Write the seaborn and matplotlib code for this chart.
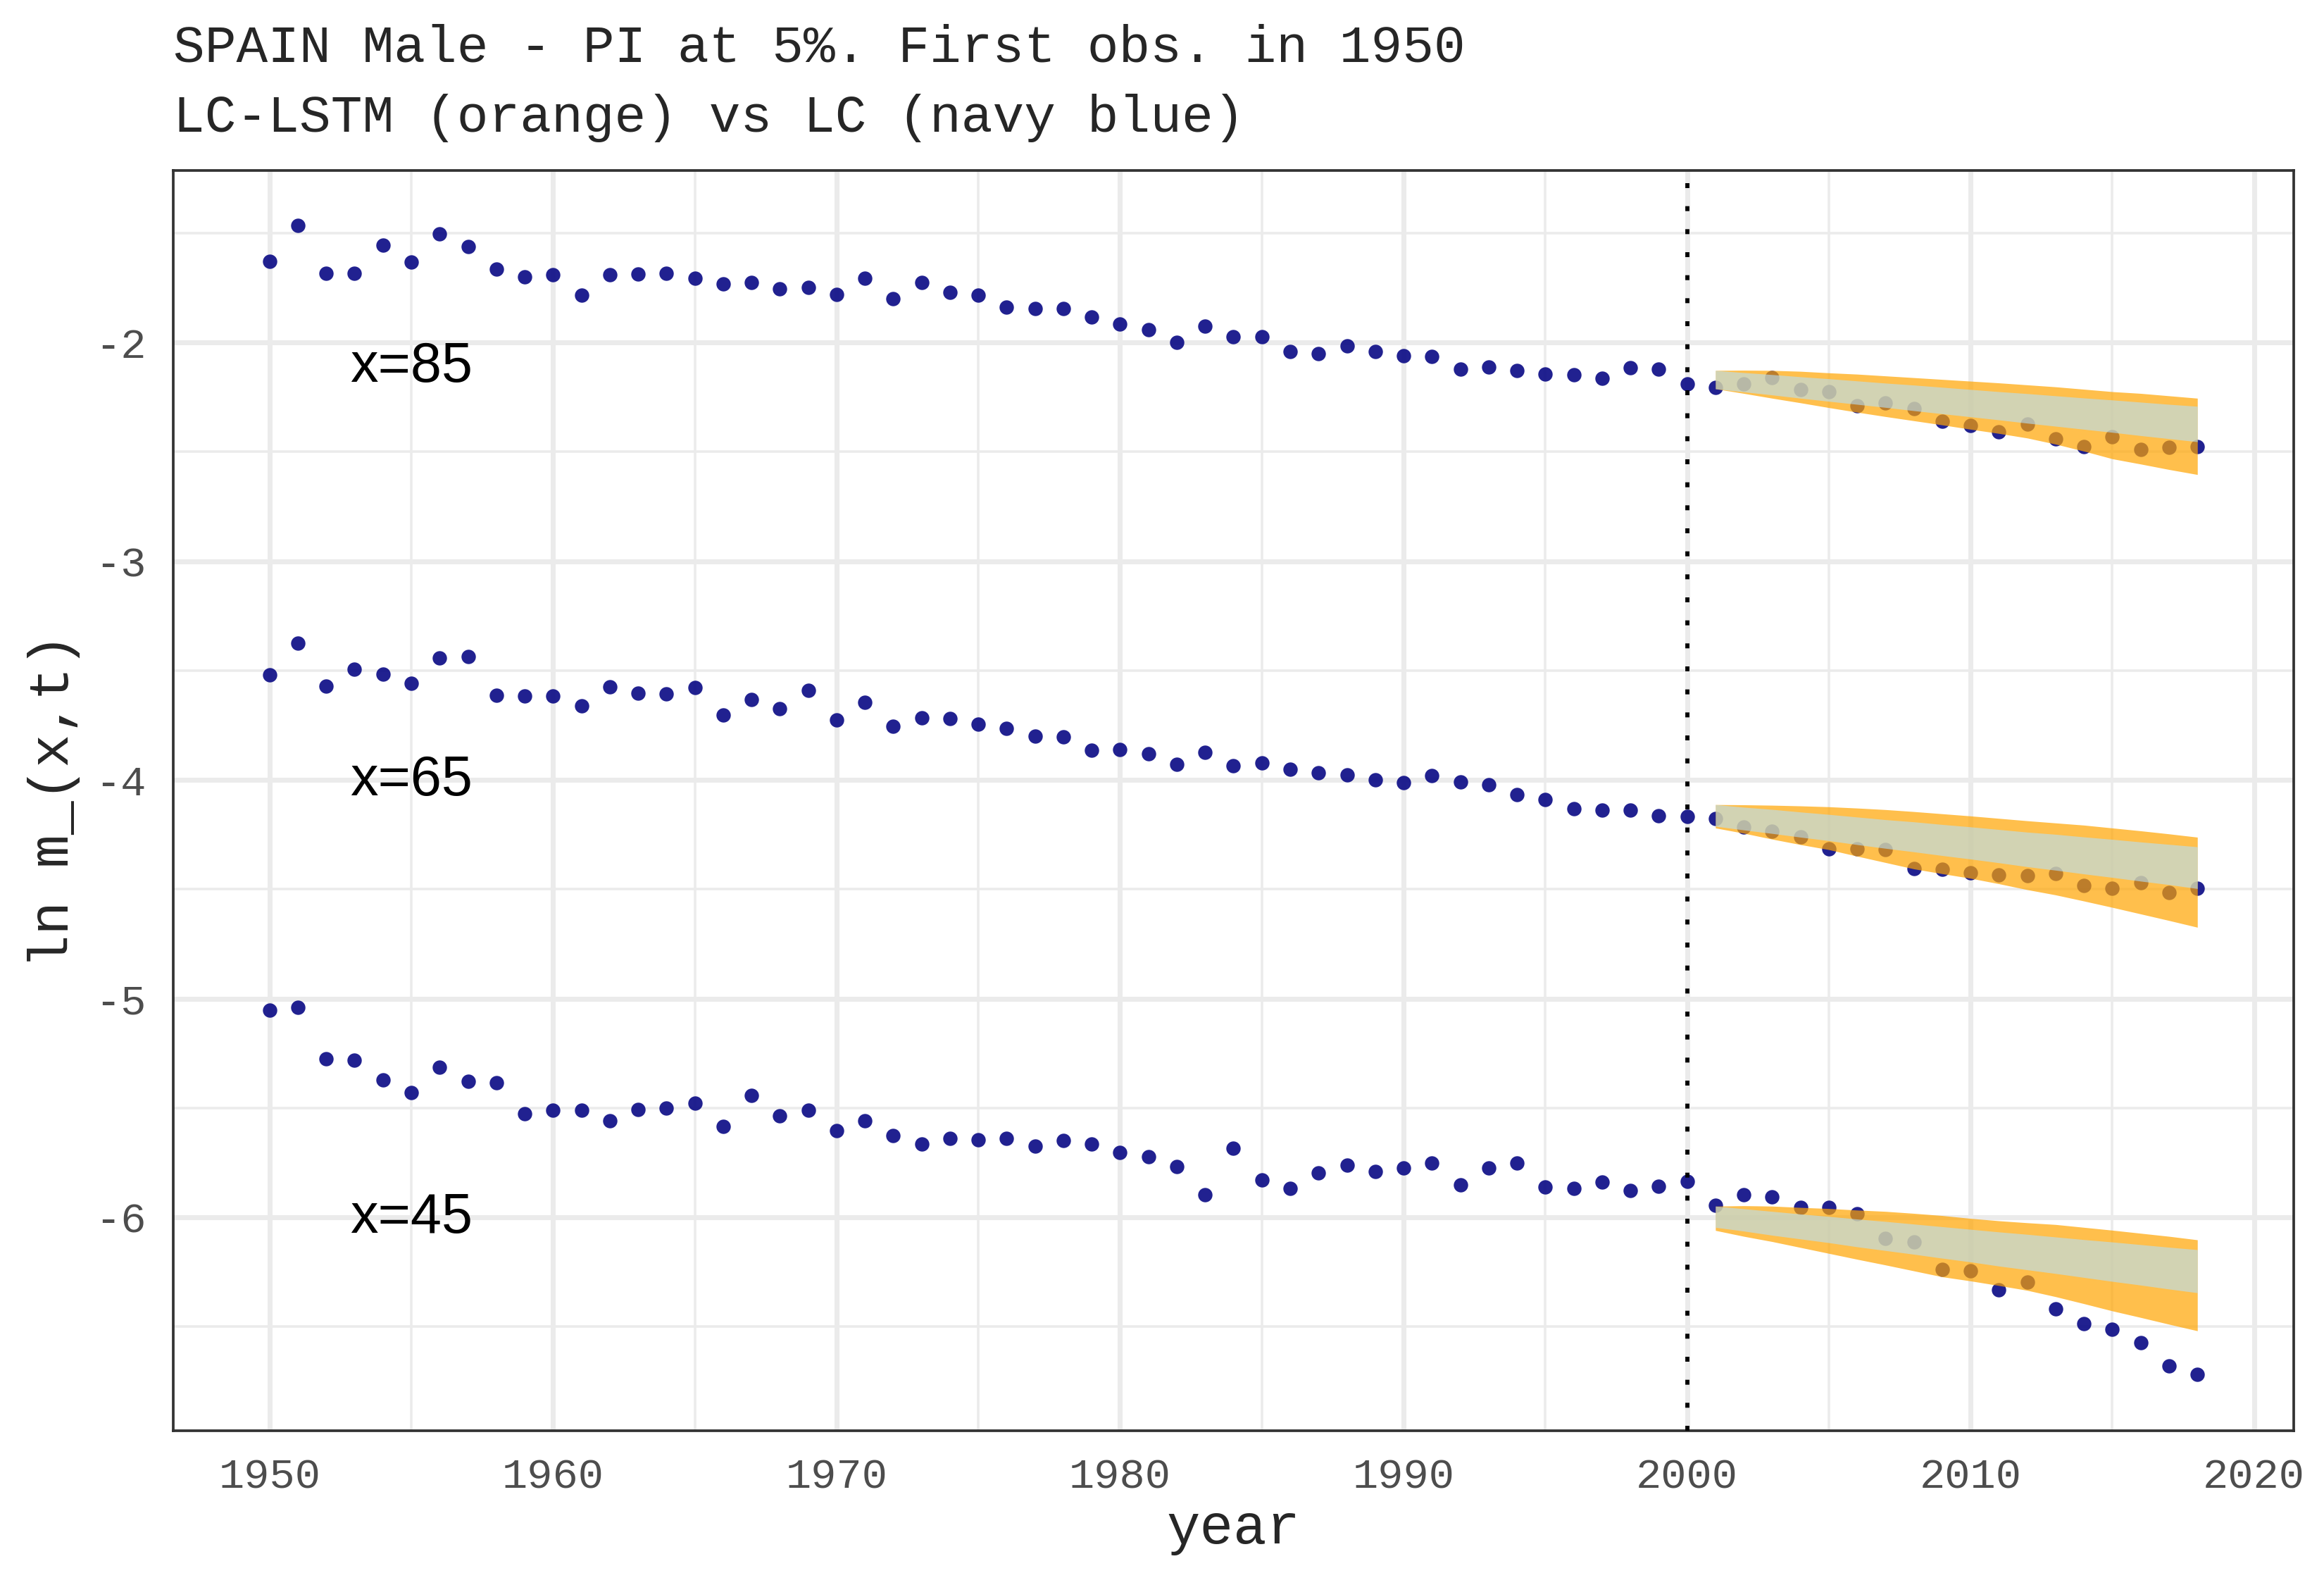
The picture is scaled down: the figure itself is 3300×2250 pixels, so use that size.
import numpy as np
import pandas as pd
import seaborn as sns
import matplotlib.pyplot as plt
from matplotlib.ticker import MultipleLocator

# observed log death rates, Spain males
years = list(range(1950, 2019))
fc_years = list(range(2001, 2019))

lnm_85 = [-1.628, -1.466, -1.683, -1.683, -1.554, -1.631, -1.505, -1.563, -1.666, -1.699,
          -1.689, -1.783, -1.689, -1.686, -1.683, -1.708, -1.731, -1.725, -1.754, -1.747,
          -1.779, -1.705, -1.799, -1.725, -1.770, -1.783, -1.837, -1.844, -1.844, -1.883,
          -1.915, -1.941, -1.999, -1.925, -1.973, -1.975, -2.043, -2.050, -2.017, -2.040,
          -2.060, -2.065, -2.121, -2.112, -2.127, -2.144, -2.147, -2.163, -2.115, -2.123,
          -2.188, -2.207, -2.188, -2.162, -2.215, -2.224, -2.289, -2.278, -2.302, -2.359,
          -2.379, -2.407, -2.372, -2.441, -2.475, -2.430, -2.488, -2.478, -2.475]

lnm_65 = [-3.521, -3.376, -3.570, -3.495, -3.515, -3.560, -3.444, -3.437, -3.612, -3.615,
          -3.615, -3.663, -3.573, -3.602, -3.608, -3.579, -3.702, -3.631, -3.676, -3.592,
          -3.725, -3.644, -3.754, -3.715, -3.721, -3.744, -3.766, -3.799, -3.802, -3.866,
          -3.860, -3.879, -3.928, -3.873, -3.934, -3.921, -3.950, -3.966, -3.976, -3.999,
          -4.012, -3.979, -4.008, -4.021, -4.067, -4.089, -4.131, -4.137, -4.137, -4.163,
          -4.167, -4.176, -4.215, -4.234, -4.260, -4.315, -4.315, -4.318, -4.405, -4.408,
          -4.424, -4.434, -4.437, -4.428, -4.483, -4.496, -4.470, -4.515, -4.496]

lnm_45 = [-5.053, -5.040, -5.275, -5.282, -5.372, -5.430, -5.314, -5.378, -5.385, -5.527,
          -5.511, -5.511, -5.559, -5.507, -5.501, -5.478, -5.585, -5.443, -5.537, -5.511,
          -5.604, -5.559, -5.627, -5.666, -5.640, -5.646, -5.640, -5.675, -5.650, -5.666,
          -5.704, -5.724, -5.769, -5.898, -5.685, -5.830, -5.869, -5.798, -5.762, -5.791,
          -5.775, -5.753, -5.853, -5.775, -5.753, -5.862, -5.869, -5.840, -5.878, -5.859,
          -5.837, -5.946, -5.898, -5.907, -5.956, -5.956, -5.985, -6.095, -6.111, -6.237,
          -6.244, -6.333, -6.295, -6.420, -6.485, -6.511, -6.572, -6.679, -6.717]

# prediction intervals 2001-2018
lstm_hi_85 = [-2.128, -2.127, -2.128, -2.132, -2.139, -2.145, -2.153, -2.161, -2.169,
              -2.177, -2.185, -2.194, -2.203, -2.214, -2.225, -2.233, -2.244, -2.255]
lstm_lo_85 = [-2.212, -2.233, -2.255, -2.276, -2.298, -2.319, -2.339, -2.358, -2.377,
              -2.397, -2.416, -2.437, -2.465, -2.497, -2.532, -2.556, -2.581, -2.604]
lc_hi_85 = [-2.128, -2.138, -2.147, -2.157, -2.166, -2.176, -2.186, -2.195, -2.205,
            -2.215, -2.225, -2.234, -2.244, -2.254, -2.263, -2.273, -2.283, -2.292]
lc_lo_85 = [-2.212, -2.226, -2.240, -2.255, -2.269, -2.283, -2.297, -2.312, -2.326,
            -2.340, -2.354, -2.369, -2.383, -2.397, -2.411, -2.426, -2.440, -2.454]

lstm_hi_65 = [-4.113, -4.114, -4.116, -4.119, -4.123, -4.129, -4.136, -4.145, -4.155,
              -4.165, -4.176, -4.187, -4.197, -4.207, -4.220, -4.233, -4.247, -4.262]
lstm_lo_65 = [-4.220, -4.244, -4.271, -4.296, -4.319, -4.349, -4.378, -4.407, -4.429,
              -4.450, -4.475, -4.502, -4.526, -4.554, -4.583, -4.613, -4.643, -4.674]
lc_hi_65 = [-4.113, -4.125, -4.135, -4.147, -4.158, -4.170, -4.182, -4.192, -4.204,
            -4.215, -4.227, -4.239, -4.249, -4.261, -4.272, -4.284, -4.295, -4.306]
lc_lo_65 = [-4.212, -4.229, -4.245, -4.262, -4.278, -4.296, -4.313, -4.329, -4.346,
            -4.362, -4.379, -4.397, -4.413, -4.430, -4.446, -4.463, -4.479, -4.497]

lstm_hi_45 = [-5.949, -5.947, -5.949, -5.955, -5.960, -5.967, -5.973, -5.982, -5.992,
              -6.005, -6.016, -6.025, -6.033, -6.046, -6.059, -6.073, -6.087, -6.103]
lstm_lo_45 = [-6.060, -6.087, -6.111, -6.138, -6.165, -6.192, -6.218, -6.245, -6.272,
              -6.291, -6.312, -6.334, -6.363, -6.395, -6.428, -6.458, -6.489, -6.519]
lc_hi_45 = [-5.949, -5.961, -5.973, -5.985, -5.996, -6.008, -6.019, -6.031, -6.043,
            -6.055, -6.067, -6.078, -6.090, -6.102, -6.113, -6.125, -6.137, -6.148]
lc_lo_45 = [-6.046, -6.063, -6.082, -6.099, -6.116, -6.135, -6.152, -6.169, -6.187,
            -6.204, -6.223, -6.240, -6.257, -6.275, -6.293, -6.310, -6.328, -6.345]

ages = ["x=85", "x=65", "x=45"]

obs = pd.DataFrame({
    "year": years * 3,
    "lnm": lnm_85 + lnm_65 + lnm_45,
    "age": [a for a in ages for _ in years],
})

sns.set_theme(style="white")
plt.rcParams["font.family"] = ["Liberation Mono", "DejaVu Sans"]
plt.rcParams["axes.unicode_minus"] = False

fig, ax = plt.subplots(figsize=(11, 7.5), dpi=300)
fig.subplots_adjust(left=0.0745, right=0.987, top=0.8924, bottom=0.0973)

sns.scatterplot(data=obs, x="year", y="lnm", color="navy", alpha=0.87,
                s=24, linewidth=0, ax=ax, zorder=3, legend=False)

bands = [(lstm_lo_85, lstm_hi_85, lc_lo_85, lc_hi_85),
         (lstm_lo_65, lstm_hi_65, lc_lo_65, lc_hi_65),
         (lstm_lo_45, lstm_hi_45, lc_lo_45, lc_hi_45)]
for lo, hi, lc_lo, lc_hi in bands:
    ax.fill_between(fc_years, lo, hi, color="orange", alpha=0.7, lw=0, zorder=4)
    ax.fill_between(fc_years, lc_lo, lc_hi, color="#B4E1F9", alpha=0.6, lw=0, zorder=5)

ax.axvline(2000, color="black", lw=1.4, ls=(0, (1.2, 4.4)), zorder=6)

# age labels
for lab, yy in zip(ages, [-2.115, -4.005, -6.005]):
    ax.text(1955, yy, lab, ha="center", va="center", fontsize=19,
            family=["Liberation Sans", "DejaVu Sans"], color="black", zorder=7)

ax.set_xlim(1946.6, 2021.4)
ax.set_ylim(-6.976, -1.214)
ax.xaxis.set_major_locator(MultipleLocator(10))
ax.xaxis.set_minor_locator(MultipleLocator(5))
ax.yaxis.set_major_locator(MultipleLocator(1))
ax.yaxis.set_minor_locator(MultipleLocator(0.5))

ax.set_axisbelow(True)
ax.grid(which="major", color="#EBEBEB", lw=1.7)
ax.grid(which="minor", color="#EBEBEB", lw=0.85)
for sp in ax.spines.values():
    sp.set_visible(True)
    sp.set_color("#333333")
    sp.set_linewidth(0.9)

ax.tick_params(which="major", length=5.2, width=1.6, color="#333333",
               labelsize=14.5, labelcolor="#4D4D4D", pad=4)
ax.tick_params(which="minor", length=0)

ax.set_xlabel("year", fontsize=19, labelpad=2)
ax.set_ylabel("ln m_(x,t)", fontsize=19, labelpad=5)

fig.text(0.0745, 0.961, "SPAIN Male - PI at 5%. First obs. in 1950", fontsize=17.9,
         ha="left", va="baseline")
fig.text(0.0745, 0.917, "LC-LSTM (orange) vs LC (navy blue)", fontsize=17.9,
         ha="left", va="baseline")

fig.savefig("out.png", dpi=300)
